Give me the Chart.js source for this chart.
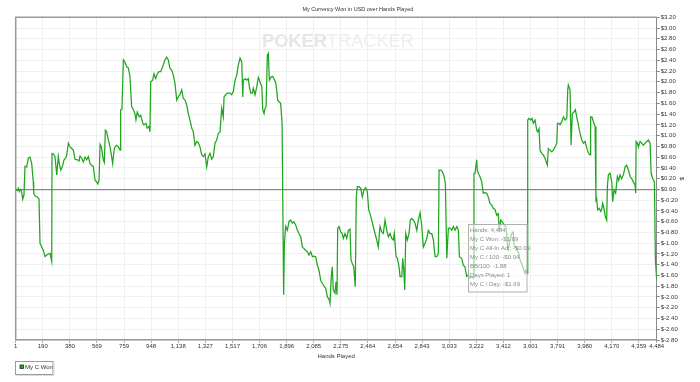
<!DOCTYPE html>
<html><head><meta charset="utf-8">
<script src="https://cdn.jsdelivr.net/npm/chart.js@4.4.0/dist/chart.umd.min.js"></script>
<style>html,body{margin:0;padding:0;background:#fff}#wrap{width:700px;height:382px}</style>
</head><body><div id="wrap"><canvas id="c" width="700" height="382"></canvas></div>
<script>
const chartTitle = 'My Currency Won in USD over Hands Played';
const seriesLabel = 'My C Won';
const xTitle = 'Hands Played';
const yTitle = '$';
const watermarkA = 'POKER';
const watermarkB = 'TRACKER';
const xTickHands = [1,190,380,569,759,948,1138,1327,1517,1706,1896,2085,2275,2464,2654,2843,3033,3222,3412,3601,3791,3980,4170,4359,4484];
const yMin = -2.8, yMax = 3.2, yStep = 0.2;
const tooltipLines = ['Hands: 4,484','My C Won: -$1.69','My C All-In Adj: -$0.09','My C / 100: -$0.04','BB/100: -1.88','Days Played: 1','My C / Day: -$1.69'];

const hands = [1,12,19,26,33,40,50,59,66,78,89,101,113,124,127,136,152,164,171,183,194,206,218,229,241,253,
255,264,276,288,299,306,316,327,339,351,358,369,381,393,404,416,432,444,451,463,474,486,498,509,521,533,544,556,567,575,584,
591,600,614,621,628,637,649,661,672,679,689,696,707,719,731,735,744,754,765,777,789,800,812,824,835,842,851,865,875,889,898,912,921,933,940,
945,959,968,980,991,1003,1015,1029,1045,1057,1068,1080,1092,1103,1115,1127,1138,1150,1162,1173,1185,1197,1208,1220,1232,1243,1255,1267,1278,1290,
1302,1313,1325,1337,1348,1360,1372,1383,1395,1407,1418,1430,1442,1453,1458,1470,1481,1500,1512,1523,1535,1547,1558,1570,
1582,1589,1593,1605,1617,1628,1635,1645,1656,1663,1675,1687,1698,1710,1722,1729,1738,1745,1752,1761,1768,1775,1785,1796,1808,1820,1826,1833,1843,1854,1864,
1875,1880,1889,1901,1912,1924,1936,1947,1959,1971,1982,1994,2006,2017,2029,2041,2052,2064,2076,2087,2099,2111,2122,2134,2146,2157,2169,2181,2192,2199,
2208,2215,2222,2234,2241,2248,2253,2262,2274,2285,2292,2304,2316,2327,2339,2346,2355,2365,2376,2383,2390,2402,2414,2425,2437,2449,2460,
2470,2479,2491,2502,2514,2526,2537,2549,2561,2572,2584,2596,2607,2619,2631,2642,2649,2661,2670,2682,2689,2701,2708,2715,2722,
2729,2740,2752,2761,2771,2782,2794,2806,2817,2829,2841,2852,2864,2876,2887,2899,2911,2922,2934,2946,2957,2962,2974,2985,2997,3006,
3016,3027,3039,3051,3062,3074,3086,3097,3104,3120,3131,3143,3155,3166,3178,3190,3201,3206,3213,3225,3229,3236,3248,3260,3271,3283,3295,3306,
3318,3330,3341,3353,3365,3376,3383,3393,3404,3416,3428,3435,3442,3449,3458,3470,3481,3488,3500,3509,3519,3528,3540,3551,3563,3570,3577,
3582,3591,3603,3612,3621,3633,3645,3652,3661,3668,3680,3691,3703,3715,3719,3726,3738,3750,3761,3773,3785,3790,3799,3808,3820,3832,3843,3855,
3862,3866,3878,3885,3894,3906,3915,3925,3936,3948,3960,3971,3983,3990,3999,4008,4018,4022,4031,4041,4053,4059,4064,4071,4083,4092,4099,4106,
4115,4125,4134,4139,4146,4158,4170,4176,4186,4197,4209,4218,4228,4239,4251,4263,4274,4286,4298,4309,4321,4333,4337,4340,4349,4356,4368,4379,
4391,4403,4414,4426,4438,4445,4457,4468,4475,4484];

const won = [0.00,-0.02,0.02,-0.04,0.00,-0.01,-0.18,-0.10,0.43,0.42,0.58,0.60,0.48,0.14,-0.07,-0.12,-0.14,-0.18,-1.00,-1.07,-1.13,-1.25,-1.22,-1.20,-1.19,-1.34,
0.67,0.66,0.61,0.27,0.61,0.48,0.36,0.42,0.55,0.58,0.64,0.86,0.79,0.76,0.73,0.56,0.55,0.53,0.62,0.58,0.51,0.60,0.55,0.61,0.48,0.45,0.42,0.17,0.14,0.10,0.17,
0.84,0.79,0.55,0.50,1.10,1.07,0.92,0.79,0.61,0.48,0.73,0.79,0.82,0.79,0.73,1.48,1.49,2.41,2.37,2.28,2.26,2.10,1.54,1.48,1.41,1.29,1.44,1.35,1.38,1.24,1.20,1.23,1.14,1.17,1.07,
2.00,2.03,2.15,2.06,2.15,2.19,2.19,2.28,2.41,2.46,2.41,2.25,2.22,2.13,1.97,1.66,1.72,1.76,1.85,1.69,1.66,1.57,1.41,1.29,1.14,1.07,0.82,0.89,0.87,0.79,
0.64,0.61,0.66,0.42,0.61,0.67,0.56,0.61,0.86,0.92,1.04,1.07,1.51,1.35,1.72,1.76,1.79,1.79,1.76,1.82,2.03,2.13,2.31,2.44,
2.37,1.72,2.03,2.06,2.03,2.06,1.91,1.79,1.79,1.88,1.76,1.91,2.08,2.00,1.91,1.48,1.41,1.51,1.54,2.50,2.53,2.03,2.08,2.10,2.06,1.97,1.85,1.66,1.63,1.60,1.23,
-1.96,-1.00,-0.69,-0.76,-0.60,-0.57,-0.63,-0.60,-0.66,-0.76,-0.82,-0.88,-1.07,-1.10,-1.13,-1.16,-1.22,-1.16,-1.25,-1.24,-1.25,-1.41,-1.50,-1.69,-1.75,-1.80,-1.84,-2.00,-2.04,-2.12,
-1.62,-1.44,-1.87,-1.93,-1.72,-1.96,-0.72,-0.69,-0.79,-0.82,-0.91,-0.82,-0.91,-0.76,-0.74,-1.31,-1.38,-1.44,-1.81,-0.14,0.05,0.05,0.02,-0.14,-0.01,0.03,-0.04,
-0.38,-0.45,-0.57,-0.69,-0.82,-0.94,-1.07,-0.69,-0.79,-0.82,-0.57,-0.76,-0.88,-0.82,-0.91,-0.94,-0.82,-1.25,-1.28,-1.44,-1.62,-1.62,-1.28,-1.50,-1.87,
-0.82,-0.94,-0.82,-0.57,-0.54,-0.57,-0.63,-0.76,-0.57,-0.43,-0.69,-1.07,-1.00,-0.91,-0.76,-0.82,-0.82,-0.94,-1.25,-1.25,-1.19,0.36,0.36,0.33,0.24,0.11,
-1.28,-0.72,-0.72,-0.76,-0.69,-0.76,-0.69,-0.76,-1.25,-1.28,-1.41,-1.44,-1.62,-1.59,-1.65,-1.62,-1.65,0.30,0.30,0.55,0.36,0.30,0.24,0.14,-0.07,-0.06,-0.07,-0.14,
-0.26,-0.29,-0.35,-0.37,-0.48,-0.45,-0.76,-0.57,-0.60,-0.66,-0.69,-0.82,-1.10,-1.07,-0.94,-0.82,-0.79,-1.07,-1.07,-1.13,-1.19,-1.31,-1.38,-1.47,-1.56,-1.50,-1.56,
1.29,1.32,1.29,1.32,1.23,1.29,1.10,1.07,1.13,0.73,0.67,0.64,0.58,0.48,0.45,0.76,0.73,0.70,0.73,0.79,0.86,1.23,1.23,1.20,1.26,1.35,1.29,1.32,
1.85,1.94,1.85,0.82,1.41,1.44,1.48,1.35,1.20,1.04,0.92,0.86,0.89,0.82,0.73,0.67,0.64,1.35,1.35,1.26,1.17,-0.20,-0.17,-0.38,-0.35,-0.41,-0.38,-0.26,
-0.35,-0.51,-0.57,0.05,0.27,0.30,0.14,-0.23,-0.01,-0.07,0.24,0.17,0.27,0.20,0.27,0.42,0.45,0.36,0.24,0.20,0.14,0.08,-0.07,0.89,0.86,0.79,0.89,0.86,
0.82,0.86,0.89,0.92,0.86,0.30,0.20,0.14,-1.31,-1.69];

const FONT = 'Liberation Sans, Arial, sans-serif';
const TXT = '#333333';

const decor = {
  id: 'decor',
  beforeDatasetsDraw(chart) {
    const {ctx, chartArea: a} = chart;
    ctx.save();
    const wx = 262, wy = 42, targetW = 152;
    ctx.textBaseline = 'middle';
    ctx.font = 'bold 20px ' + FONT;
    const wA = ctx.measureText(watermarkA).width;
    ctx.font = '20px ' + FONT;
    const wB = ctx.measureText(watermarkB).width;
    const s = 20 * targetW / (wA + wB);
    ctx.font = 'bold ' + s + 'px ' + FONT;
    ctx.fillStyle = '#e6e6e6';
    ctx.fillText(watermarkA, wx, wy);
    const wA2 = ctx.measureText(watermarkA).width;
    ctx.font = s + 'px ' + FONT;
    ctx.fillStyle = '#eeeeee';
    ctx.fillText(watermarkB, wx + wA2, wy);
    ctx.strokeStyle = '#999999';
    ctx.lineWidth = 1.5;
    ctx.beginPath();
    ctx.moveTo(a.left, a.bottom);
    ctx.lineTo(a.left, a.top);
    ctx.lineTo(a.right, a.top);
    ctx.stroke();
    ctx.restore();
  },
  afterDraw(chart) {
    const {ctx} = chart;
    ctx.save();
    const bx = 468.5, by = 224.5, bw = 58.5, bh = 67.5;
    ctx.fillStyle = 'rgba(255,255,255,0.55)';
    ctx.fillRect(bx, by, bw, bh);
    ctx.strokeStyle = '#b0b0b0';
    ctx.lineWidth = 1;
    ctx.strokeRect(bx, by, bw, bh);
    ctx.font = '6px ' + FONT;
    ctx.fillStyle = '#8a8a8a';
    ctx.textBaseline = 'middle';
    tooltipLines.forEach((t, i) => ctx.fillText(t, bx + 1.5, by + 5.5 + i * 9.1));
    const lx = 15.5, ly = 361.5, lw = 37.5, lh = 13;
    ctx.strokeStyle = '#9a9a9a';
    ctx.strokeRect(lx, ly, lw, lh);
    ctx.strokeStyle = '#dddddd';
    ctx.beginPath(); ctx.moveTo(lx + 1, ly + lh + 1); ctx.lineTo(lx + lw + 1, ly + lh + 1); ctx.lineTo(lx + lw + 1, ly + 1); ctx.stroke();
    const ds = chart.data.datasets[0];
    ctx.fillStyle = ds.borderColor;
    ctx.fillRect(20, 365, 3.5, 3.5);
    ctx.strokeStyle = '#114411';
    ctx.lineWidth = 0.8;
    ctx.strokeRect(20, 365, 3.5, 3.5);
    ctx.fillStyle = TXT;
    ctx.font = '6px ' + FONT;
    ctx.fillText(ds.label, 25, 367.5);
    ctx.restore();
  }
};

new Chart(document.getElementById('c'), {
  type: 'line',
  data: {
    datasets: [{
      label: seriesLabel,
      data: hands.map((h, i) => ({x: h, y: won[i]})),
      borderColor: '#1fa51f',
      borderWidth: 1.25,
      pointRadius: 0,
      tension: 0,
      fill: false
    }]
  },
  options: {
    responsive: false,
    animation: false,
    devicePixelRatio: 1,
    layout: {padding: {left: 15.7, top: 0, right: 0, bottom: 0}},
    plugins: {
      legend: {display: false},
      tooltip: {enabled: false},
      title: {
        display: true, text: chartTitle, color: TXT,
        font: {family: FONT, size: 5.5, weight: 'normal', lineHeight: 1.2},
        padding: {top: 6, bottom: 4.7}
      }
    },
    scales: {
      x: {
        type: 'linear', min: 1, max: 4484,
        afterBuildTicks: s => { s.ticks = xTickHands.map(v => ({value: v})); },
        afterFit: s => { s.height = 42; },
        ticks: {
          color: TXT, font: {family: FONT, size: 6}, padding: 0, maxRotation: 0, autoSkip: false,
          callback: v => Number(v).toLocaleString('en-US')
        },
        grid: {color: '#f0f0f0', tickColor: '#b0b0b0', tickLength: 3, lineWidth: 1},
        border: {display: true, color: '#999999', width: 1.5},
        title: {display: true, text: xTitle, color: TXT, font: {family: FONT, size: 6, lineHeight: 1.2}, padding: {top: 0, bottom: 22.4}}
      },
      y: {
        position: 'right', min: yMin, max: yMax,
        afterFit: s => { s.width = 43.3; },
        ticks: {
          stepSize: yStep, color: TXT, font: {family: FONT, size: 6}, padding: 1,
          callback: v => '$' + (Math.abs(v) < 1e-9 ? 0 : v).toFixed(2)
        },
        grid: {
          color: c => (c.tick && Math.abs(c.tick.value) < 1e-9) ? '#8a8a8a' : '#f0f0f0',
          lineWidth: c => (c.tick && Math.abs(c.tick.value) < 1e-9) ? 1.3 : 1,
          tickColor: '#888888', tickLength: 3
        },
        border: {display: true, color: '#888888', width: 1},
        title: {display: true, text: yTitle, color: TXT, font: {family: FONT, size: 6, lineHeight: 1.2}, padding: {top: 14.4, bottom: 0}}
      }
    }
  },
  plugins: [decor]
});
</script>
</body></html>
